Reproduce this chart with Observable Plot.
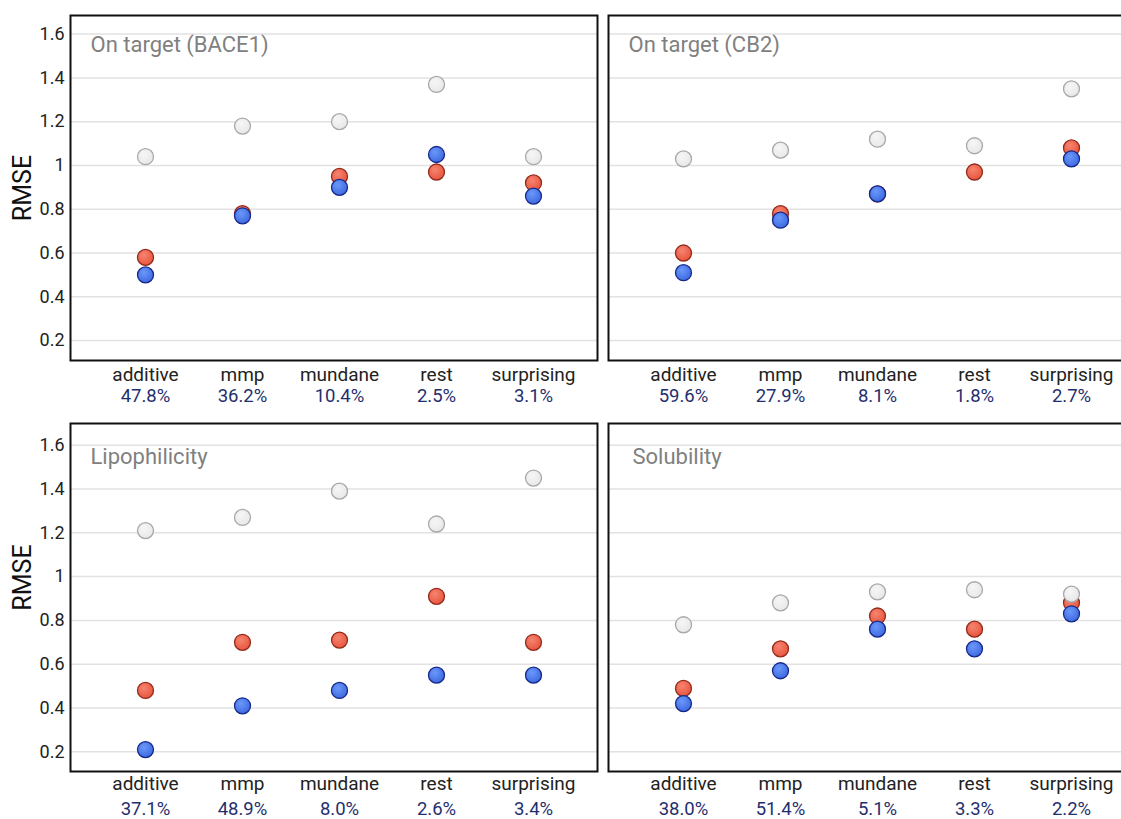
<!DOCTYPE html>
<html>
<head>
<meta charset="utf-8">
<script src="https://cdn.jsdelivr.net/npm/d3@7"></script>
<script src="https://cdn.jsdelivr.net/npm/@observablehq/plot@0.6"></script>
<style>
  html, body { margin: 0; padding: 0; background: #fff; }
  #chart { position: relative; width: 1121px; height: 819px; overflow: hidden; font-family: Roboto, "Noto Sans", sans-serif; }
  #chart > .panel { position: absolute; }
  #chart > .panel svg { max-width: none !important; display: block; }
</style>
</head>
<body>
<div id="chart"></div>
<script>
// Transformation categories and the y-axis ticks shared by all panels
const categories = ["additive", "mmp", "mundane", "rest", "surprising"];
const yTicks = [0.2, 0.4, 0.6, 0.8, 1, 1.2, 1.4, 1.6];

// On target (BACE1)
const bace1Gray = [1.04, 1.18, 1.20, 1.37, 1.04];
const bace1Red = [0.58, 0.78, 0.95, 0.97, 0.92];
const bace1Blue = [0.50, 0.77, 0.90, 1.05, 0.86];
const bace1Share = ["47.8%", "36.2%", "10.4%", "2.5%", "3.1%"];

// On target (CB2)
const cb2Gray = [1.03, 1.07, 1.12, 1.09, 1.35];
const cb2Red = [0.60, 0.78, 0.87, 0.97, 1.08];
const cb2Blue = [0.51, 0.75, 0.87, null, 1.03];
const cb2Share = ["59.6%", "27.9%", "8.1%", "1.8%", "2.7%"];

// Lipophilicity
const lipoGray = [1.21, 1.27, 1.39, 1.24, 1.45];
const lipoRed = [0.48, 0.70, 0.71, 0.91, 0.70];
const lipoBlue = [0.21, 0.41, 0.48, 0.55, 0.55];
const lipoShare = ["37.1%", "48.9%", "8.0%", "2.6%", "3.4%"];

// Solubility
const solGray = [0.78, 0.88, 0.93, 0.94, 0.92];
const solRed = [0.49, 0.67, 0.82, 0.76, 0.88];
const solBlue = [0.42, 0.57, 0.76, 0.67, 0.83];
const solShare = ["38.0%", "51.4%", "5.1%", "3.3%", "2.2%"];

const rowsOf = (values) =>
  categories.map((c, i) => ({category: c, rmse: values[i]})).filter((d) => d.rmse != null);

function addGradients(svg, id) {
  const defs = d3.select(svg).insert("defs", ":first-child");
  const grads = [
    ["red", "#f68470", "#e8563f"],
    ["blue", "#6b98fa", "#3e6ae0"],
    ["gray", "#f6f6f6", "#e8e8e8"]
  ];
  for (const [name, light, base] of grads) {
    const g = defs.append("radialGradient").attr("id", `${id}-${name}`)
      .attr("cx", "40%").attr("cy", "35%").attr("r", "65%");
    g.append("stop").attr("offset", "0%").attr("stop-color", light);
    g.append("stop").attr("offset", "100%").attr("stop-color", base);
  }
}

function panel(o) {
  const id = o.id;
  const width = o.marginLeft + 527 + 3;
  const dotOpts = {x: "category", y: "rmse", r: 8, strokeWidth: 1.3};
  const plot = Plot.plot({
    width,
    height: 15 + o.frameHeight + 50,
    marginTop: 15,
    marginBottom: 50,
    marginLeft: o.marginLeft,
    marginRight: 3,
    style: {fontFamily: "Roboto, 'Noto Sans', sans-serif", fontSize: "18px", color: "#222", background: "transparent"},
    x: {type: "point", domain: categories, padding: 0, insetLeft: 74, insetRight: 64, axis: null},
    y: o.showY
      ? {domain: o.yDomain, ticks: yTicks, tickFormat: (d) => String(d), tickSize: 0, tickPadding: 6, label: null}
      : {domain: o.yDomain, axis: null},
    marks: [
      Plot.ruleY(yTicks, {stroke: "#e2e2e2", strokeWidth: 1.5}),
      Plot.frame({stroke: "#111", strokeWidth: 2}),
      Plot.text([o.title], {frameAnchor: "top-left", lineAnchor: "top", dx: o.titleDx, dy: o.titleDy, fill: "#808080", fontSize: 22}),
      Plot.dot(rowsOf(o.red), {...dotOpts, fill: `url(#${id}-red)`, stroke: "#922b1b"}),
      Plot.dot(rowsOf(o.gray), {...dotOpts, fill: `url(#${id}-gray)`, stroke: "#a8a8a8"}),
      Plot.dot(rowsOf(o.blue), {...dotOpts, fill: `url(#${id}-blue)`, stroke: "#16298a"}),
      Plot.text(categories, {x: (d) => d, frameAnchor: "bottom", lineAnchor: "bottom", dy: o.catDy, fontSize: 19, fill: "#222"}),
      Plot.text(categories, {x: (d) => d, text: (d, i) => o.share[i], frameAnchor: "bottom", lineAnchor: "bottom", dy: o.shareDy, fontSize: 18.5, fill: "#1f2f6e"}),
      ...(o.showY
        ? [Plot.text(["RMSE"], {frameAnchor: "left", textAnchor: "middle", lineAnchor: "middle", rotate: -90, dx: -48, dy: o.labelDy, fontSize: 25, fill: "#111"})]
        : [])
    ]
  });
  addGradients(plot, id);
  const wrap = document.createElement("div");
  wrap.className = "panel";
  wrap.style.left = o.left + "px";
  wrap.style.top = o.top + "px";
  wrap.style.width = width + "px";
  wrap.appendChild(plot);
  document.getElementById("chart").appendChild(wrap);
}

const topRow = {top: 0, frameHeight: 345, yDomain: [0.109, 1.685], titleDy: 21, catDy: 20, shareDy: 41, labelDy: 0};
const bottomRow = {top: 408, frameHeight: 348, yDomain: [0.11, 1.699], titleDy: 25, catDy: 18, shareDy: 43, labelDy: -20};
const leftCol = {left: 0, marginLeft: 70, showY: true, titleDx: 20};
const rightCol = {left: 598, marginLeft: 10, showY: false, titleDx: 20};

panel({...topRow, ...leftCol, id: "bace1", title: "On target (BACE1)", gray: bace1Gray, red: bace1Red, blue: bace1Blue, share: bace1Share});
panel({...topRow, ...rightCol, id: "cb2", title: "On target (CB2)", gray: cb2Gray, red: cb2Red, blue: cb2Blue, share: cb2Share});
panel({...bottomRow, ...leftCol, id: "lipo", title: "Lipophilicity", gray: lipoGray, red: lipoRed, blue: lipoBlue, share: lipoShare});
panel({...bottomRow, ...rightCol, titleDx: 24, id: "sol", title: "Solubility", gray: solGray, red: solRed, blue: solBlue, share: solShare});
</script>
</body>
</html>
